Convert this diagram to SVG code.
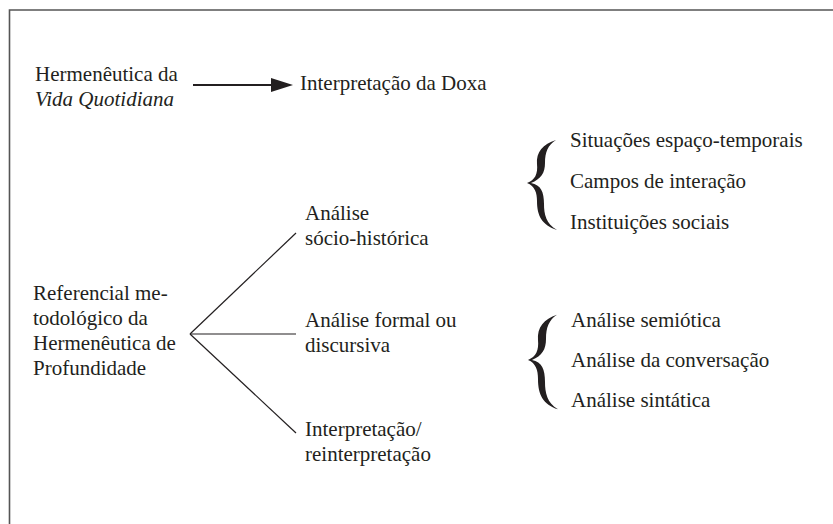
<svg xmlns="http://www.w3.org/2000/svg" width="833" height="524" viewBox="0 0 833 524">
<style>
text{font-family:"Liberation Serif","Times New Roman",Times,serif;font-size:21px;fill:#231f20}
.frame{stroke:#555;stroke-width:1.6;fill:none}
.conn{stroke:#231f20;stroke-width:1.2;fill:none}
.brace{fill:#231f20}
</style>
<defs>
<path id="brace" d="M29,-43 C16,-39 9,-31 10,-19 C11,-9 8,-3 0,0 C8,3 10,10 10,18 C10,33 15,42 30,47 C19,41 17,31 17,21 C17,9 14,2 4,0 C14,-4 18,-10 18,-20 C18,-31 21,-38 29,-43 Z"/>
</defs>
<rect width="833" height="524" fill="#fff"/>
<path class="frame" d="M9.5,524 V10 H833"/>
<g id="connectors">
<line x1="193" y1="85" x2="275" y2="85" stroke="#231f20" stroke-width="2.2"/>
<polygon points="271,78 293,85 271,92" fill="#231f20"/>
<line class="conn" x1="190" y1="334" x2="296" y2="233"/>
<line class="conn" x1="190" y1="334" x2="296" y2="334"/>
<line class="conn" x1="190" y1="334" x2="296" y2="433"/>
</g>
<g id="hermeneutica-vida">
<text x="35" y="81">Hermenêutica da</text>
<text x="35" y="106" font-style="italic">Vida Quotidiana</text>
</g>
<g id="interpretacao-doxa">
<text x="300" y="90">Interpretação da Doxa</text>
</g>
<g id="referencial">
<text x="33" y="300">Referencial me-</text>
<text x="33" y="325">todológico da</text>
<text x="33" y="350">Hermenêutica de</text>
<text x="33" y="375">Profundidade</text>
</g>
<g id="analise-socio">
<text x="305" y="220">Análise</text>
<text x="305" y="245">sócio-histórica</text>
</g>
<g id="analise-formal">
<text x="305" y="327">Análise formal ou</text>
<text x="305" y="352">discursiva</text>
</g>
<g id="interpretacao">
<text x="305" y="436">Interpretação/</text>
<text x="305" y="461">reinterpretação</text>
</g>
<g id="grupo-socio">
<use href="#brace" class="brace" transform="translate(527,183)"/>
<text x="570" y="147">Situações espaço-temporais</text>
<text x="570" y="188">Campos de interação</text>
<text x="570" y="229">Instituições sociais</text>
</g>
<g id="grupo-formal">
<use href="#brace" class="brace" transform="translate(528,360) scale(1,1.05)"/>
<text x="571" y="327">Análise semiótica</text>
<text x="571" y="367">Análise da conversação</text>
<text x="571" y="407">Análise sintática</text>
</g>
</svg>
